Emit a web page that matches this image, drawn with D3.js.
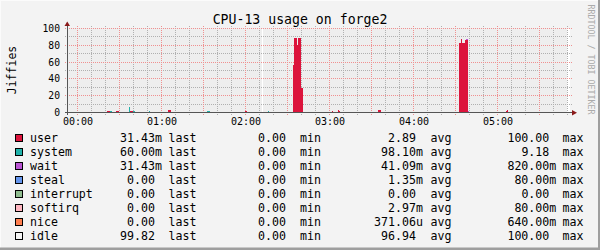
<!DOCTYPE html>
<html>
<head>
<meta charset="utf-8">
<script src="https://cdn.jsdelivr.net/npm/d3@7"></script>
<style>
  body { margin: 0; background: #f3f3f3; }
  text { font-family: "DejaVu Sans Mono", monospace; white-space: pre; }
</style>
</head>
<body>
<svg id="chart" width="600" height="250"></svg>
<script>
// chart values (minutes since 00:00, value in jiffies)
var title = 'CPU-13 usage on forge2';
var yLabel = 'Jiffies';
var watermark = 'RRDTOOL / TOBI OETIKER';
var yTicks = [0, 20, 40, 60, 80, 100];
var xTickLabels = ['00:00', '01:00', '02:00', '03:00', '04:00', '05:00'];

var userData = [[21, 1.8], [22, 1.8], [28, 1.8], [29, 1.8], [38, 1.8], [39, 1.5], [65, 3], [66, 3],
  [120, 1.5], [154, 56], [155, 89], [156, 89], [157, 80], [158, 89], [159, 89], [160, 29],
  [182, 1.2], [186, 3.5], [187, 2], [215, 3.5], [216, 3],
  [273, 83], [274, 87], [275, 83], [276, 83], [277, 86], [278, 86], [306, 1.5], [307, 3]];
var systemData = [[23, 1.8], [24, 1.5], [37, 6.5], [40, 1.5], [51, 1.5], [93, 1.5], [94, 1.2],
  [110, 1], [136, 1.5], [298, 1]];
var waitData = [[277, 0.8], [278, 1], [279, 2], [315, 1], [316, 1], [337, 1]];
var missingMinutes = [132, 350, 351];

var legendNames = ['user', 'system', 'wait', 'steal', 'interrupt', 'softirq', 'nice', 'idle'];
var legendColors = ['#dc143c', '#20b2aa', '#ba55d3', '#6495ed', '#8fbc8f', '#ffb6c1', '#ff7f50', '#f5f5f5'];
var lastValues = ['31.43m', '60.00m', '31.43m', '0.00', '0.00', '0.00', '0.00', '99.82'];
var minValues = ['0.00', '0.00', '0.00', '0.00', '0.00', '0.00', '0.00', '0.00'];
var avgValues = ['2.89', '98.10m', '41.09m', '1.35m', '0.00', '2.97m', '371.06u', '96.94'];
var maxValues = ['100.00', '9.18', '820.00m', '80.00m', '0.00', '80.00m', '640.00m', '100.00'];

var base = new Date(2024, 0, 1).getTime();
var tMin = m => new Date(base + m * 60000);

var svg = d3.select('#chart');

svg.append('rect').attr('width', 600).attr('height', 250).attr('fill', '#f3f3f3');
svg.append('rect').attr('x', 0).attr('y', 0).attr('width', 600).attr('height', 1).attr('fill', '#fbfbfb');
svg.append('rect').attr('x', 0).attr('y', 0).attr('width', 1).attr('height', 250).attr('fill', '#fbfbfb');
svg.append('rect').attr('x', 0).attr('y', 247.5).attr('width', 600).attr('height', 2.5).attr('fill', '#9e9e9e');
svg.append('rect').attr('x', 598).attr('y', 0).attr('width', 2).attr('height', 250).attr('fill', '#9e9e9e');

var x = d3.scaleTime()
    .domain([tMin(-7.36), tMin(351.6)])
    .range([67, 569.5]);
var y = d3.scaleLinear()
    .domain([0, 100])
    .range([112.5, 28.5]);

var px = v => Math.floor(x(v)) + 0.5;
var py = v => Math.floor(y(v)) + 0.5;

// canvas
svg.append('rect')
    .attr('x', 67).attr('y', 28)
    .attr('width', x.range()[1] - 67).attr('height', 84.5)
    .attr('fill', '#eeeeee');

svg.append('g')
    .attr('shape-rendering', 'crispEdges')
    .selectAll('rect')
    .data(missingMinutes)
    .join('rect')
    .attr('x', m => x(tMin(m)))
    .attr('width', m => Math.min(x(tMin(m + 1)), x.range()[1]) - x(tMin(m)))
    .attr('y', y(100))
    .attr('height', y(0) - y(100))
    .attr('fill', '#ffffff');

// grid
var x1 = x.range()[1];
var minorX = x.ticks(d3.timeMinute.every(10));
var minorY = d3.range(0, 101, 10);

var grid = svg.append('g').attr('stroke-dasharray', '1,1').attr('shape-rendering', 'crispEdges');
grid.selectAll('.vminor')
    .data(minorX.filter(d => d.getMinutes() % 30 !== 0))
    .join('line')
    .attr('x1', d => px(d)).attr('x2', d => px(d))
    .attr('y1', 26).attr('y2', 115)
    .attr('stroke', '#b0b0b0');
grid.selectAll('.hminor')
    .data(minorY.filter(d => d % 20 !== 0))
    .join('line')
    .attr('x1', 65).attr('x2', x1 + 2)
    .attr('y1', d => py(d)).attr('y2', d => py(d))
    .attr('stroke', '#b0b0b0');
grid.selectAll('.vmajor')
    .data(minorX.filter(d => d.getMinutes() % 30 === 0))
    .join('line')
    .attr('x1', d => px(d)).attr('x2', d => px(d))
    .attr('y1', 26).attr('y2', 115)
    .attr('stroke', '#f09090');
grid.selectAll('.hmajor')
    .data(yTicks.filter(d => d > 0))
    .join('line')
    .attr('x1', 65).attr('x2', x1 + 2)
    .attr('y1', d => py(d)).attr('y2', d => py(d))
    .attr('stroke', '#f09090');

// stacked bars
var series = [
  {name: 'user', color: legendColors[0], data: new Map(userData)},
  {name: 'system', color: legendColors[1], data: new Map(systemData)},
  {name: 'wait', color: legendColors[2], data: new Map(waitData)}
];
var minutes = Array.from(new Set([...userData, ...systemData, ...waitData].map(d => d[0]))).sort(d3.ascending);
var segments = [];
minutes.forEach(function (m) {
    var cum = 0;
    series.forEach(function (s) {
        var v = s.data.get(m) || 0;
        if (v > 0) segments.push({m: m, y0: cum, y1: cum + v, color: s.color});
        cum += v;
    });
});

svg.append('g')
    .attr('shape-rendering', 'crispEdges')
    .selectAll('rect')
    .data(segments)
    .join('rect')
    .attr('x', d => x(tMin(d.m)))
    .attr('width', d => x(tMin(d.m + 1)) - x(tMin(d.m)))
    .attr('y', d => y(d.y1))
    .attr('height', d => y(d.y0) - y(d.y1))
    .attr('fill', d => d.color);

// axes
svg.append('line')
    .attr('x1', 65).attr('x2', 573)
    .attr('y1', py(0)).attr('y2', py(0))
    .attr('stroke', '#555').attr('shape-rendering', 'crispEdges');
svg.append('line')
    .attr('x1', 67.5).attr('x2', 67.5)
    .attr('y1', 115).attr('y2', 25)
    .attr('stroke', '#555').attr('shape-rendering', 'crispEdges');
svg.append('path')
    .attr('d', 'M64.5,26 L70,26 L67.25,21.5 Z')
    .attr('fill', '#8b1a1a');
svg.append('path')
    .attr('d', 'M572,110 L572,115.5 L577,112.75 Z')
    .attr('fill', '#8b1a1a');

// tick labels
svg.append('g')
    .selectAll('text')
    .data(yTicks)
    .join('text')
    .attr('x', 60)
    .attr('y', d => py(d) + 3.3)
    .attr('text-anchor', 'end')
    .style('font-size', '9.7px')
    .attr('fill', '#000')
    .text(d => d);

var hours = x.ticks(d3.timeHour.every(1));
svg.append('g')
    .selectAll('text')
    .data(hours)
    .join('text')
    .attr('x', d => px(d) + 0.5)
    .attr('y', 125)
    .attr('text-anchor', 'middle')
    .style('font-size', '10px')
    .text((d, i) => xTickLabels[i]);

// title, unit, watermark
svg.append('text')
    .attr('x', 300).attr('y', 24)
    .attr('text-anchor', 'middle')
    .style('font-size', '13.2px')
    .text(title);

svg.append('text')
    .attr('transform', 'translate(15.5,70) rotate(-90)')
    .attr('text-anchor', 'middle')
    .style('font-size', '11.5px')
    .text(yLabel);

svg.append('text')
    .attr('transform', 'translate(587.8,59.5) rotate(90)')
    .attr('text-anchor', 'middle')
    .style('font-size', '8.3px')
    .attr('fill', '#aaaaaa')
    .text(watermark);

// legend
var split = s => { var m = s.match(/^([\d.]+)([a-zA-Z]?)$/); return [m[1], m[2]]; };
var cols = [
  {values: lastValues, numEnd: 155, label: 'last', lx: 168.5},
  {values: minValues, numEnd: 286, label: 'min', lx: 300},
  {values: avgValues, numEnd: 416, label: 'avg', lx: 430.5},
  {values: maxValues, numEnd: 549.3, label: 'max', lx: 562.5}
];

var rows = svg.append('g')
    .style('font-size', '11.6px')
    .selectAll('g')
    .data(legendNames)
    .join('g')
    .attr('transform', (d, i) => `translate(0,${138.3 + i * 14})`);

rows.append('rect')
    .attr('x', 15.5).attr('y', -3.8)
    .attr('width', 7).attr('height', 7)
    .attr('fill', (d, i) => legendColors[i])
    .attr('stroke', '#000');

rows.append('text')
    .attr('x', 30).attr('y', 3.9)
    .text(d => d);

cols.forEach(function (c) {
    rows.append('text')
        .attr('x', c.numEnd).attr('y', 3.9)
        .attr('text-anchor', 'end')
        .text((d, i) => split(c.values[i])[0]);
    rows.append('text')
        .attr('x', c.numEnd).attr('y', 3.9)
        .text((d, i) => split(c.values[i])[1]);
    rows.append('text')
        .attr('x', c.lx)
        .attr('y', 3.9)
        .text(c.label);
});
</script>
</body>
</html>
